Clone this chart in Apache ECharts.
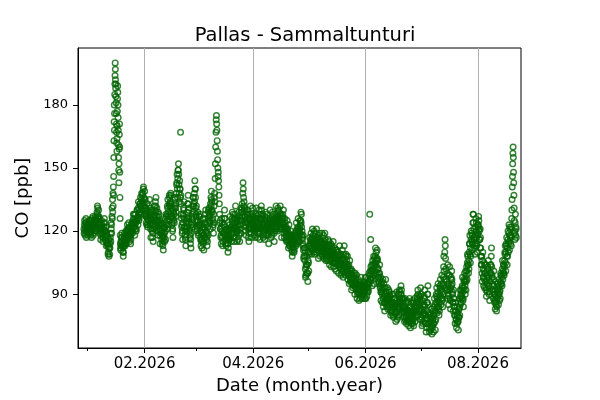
<!DOCTYPE html>
<html>
<head>
<meta charset="utf-8">
<script src="https://cdn.jsdelivr.net/npm/echarts@6/dist/echarts.min.js"></script>
<style>
    html, body {margin: 0; padding: 0; background: #fff;}
    #chart {width: 600px; height: 400px;}
</style>
</head>
<body>
<div id="chart"></div>
<script>
// CO readings [ppb], one inner list per day, readings spread evenly over the day
const dec2025 = [
    [121, 119, 123, 125, 120, 118, 122, 124], [124, 126, 121, 117, 119, 123, 122, 120]
]
const jan2026 = [
    [122, 118, 120, 124, 123, 119, 121, 125], [121, 125, 124, 120, 122, 118, 119, 123],
    [120, 117, 122, 126, 125, 121, 123, 127], [122, 118, 119, 123, 121, 125, 124, 120],
    [123, 127, 126, 122, 124, 120, 121, 125], [125, 129, 128, 132, 131, 126, 127, 124],
    [130, 127, 126, 122, 123, 119, 121, 124], [120, 116, 118, 122, 121, 125, 123, 119],
    [121, 117, 119, 115, 117, 121, 120, 124], [122, 126, 124, 120, 120, 116, 118, 122],
    [117, 113, 115, 119, 118, 114, 114, 117], [113, 109, 110, 114, 112, 108, 116, 112],
    [109, 112, 114, 117, 119, 115, 124, 121], [123, 119, 127, 131, 126, 135, 129, 138, 132],
    [141, 137, 146, 155, 163, 172, 180, 168, 176, 185, 190, 194],
    [200, 197, 192, 188, 184, 190, 181, 176, 171, 167, 162, 158],
    [164, 170, 177, 183, 189, 186, 180, 174, 168, 161, 155, 149],
    [143, 152, 159, 166, 171, 160, 148, 136, 126, 118, 114, 112],
    [111, 115, 113, 117, 115, 119, 117, 113], [114, 110, 112, 108, 110, 114, 113, 117],
    [115, 119, 117, 113, 114, 118, 116, 120], [118, 114, 116, 120, 119, 123, 121, 117],
    [117, 121, 120, 124, 122, 118, 119, 115], [121, 117, 118, 114, 116, 120, 119, 123],
    [120, 124, 123, 119, 121, 125, 124, 128], [126, 122, 124, 128, 122, 118, 125, 121],
    [128, 124, 124, 120, 121, 125, 126, 130], [130, 126, 127, 123, 131, 134, 128, 125],
    [126, 130, 129, 133, 133, 129, 136, 132], [132, 128, 135, 138, 137, 133, 134, 130],
    [138, 134, 140, 141, 136, 132, 132, 128]
]
const feb2026 = [
    [139, 135, 135, 131, 131, 127, 128, 124], [127, 123, 130, 133, 126, 122, 123, 127],
    [125, 129, 128, 132, 131, 135, 127, 123], [124, 128, 121, 117, 126, 130, 129, 125],
    [120, 124, 117, 121, 119, 115, 123, 127], [125, 121, 128, 132, 126, 122, 130, 134],
    [132, 136, 129, 125, 127, 131, 124, 120], [122, 118, 125, 129, 127, 123, 124, 128],
    [121, 125, 118, 114, 120, 124, 123, 119], [119, 123, 116, 120, 114, 118, 117, 113],
    [115, 111, 118, 122, 121, 117, 119, 115], [122, 126, 120, 116, 124, 128, 127, 123],
    [125, 121, 128, 132, 131, 135, 127, 123], [129, 125, 133, 137, 136, 132, 132, 128],
    [134, 138, 137, 133, 131, 127, 127, 123], [124, 120, 121, 117, 126, 130, 129, 125],
    [128, 124, 132, 136, 135, 131, 131, 127], [133, 129, 138, 142, 143, 147, 140, 136],
    [145, 149, 149, 152, 147, 142, 138, 134], [144, 140, 140, 136, 167, 137, 133, 128],
    [126, 122, 123, 119, 120, 116, 124, 128], [127, 131, 130, 134, 126, 122, 122, 118],
    [120, 116, 117, 113, 121, 125, 124, 120], [126, 122, 129, 133, 133, 137, 130, 126],
    [127, 131, 124, 120, 121, 117, 118, 114], [116, 112, 119, 123, 123, 127, 126, 122],
    [128, 124, 132, 136, 136, 132, 133, 129], [138, 134, 144, 140, 140, 136, 131, 127]
]
const mar2026 = [
    [128, 132, 124, 120, 121, 125, 125, 129], [122, 118, 119, 123, 123, 127, 127, 123],
    [124, 128, 120, 116, 117, 113, 115, 119], [116, 112, 119, 123, 122, 126, 118, 114],
    [115, 111, 118, 122, 121, 117, 124, 128], [126, 130, 123, 119, 120, 116, 117, 113],
    [119, 115, 122, 118, 126, 130, 129, 125], [131, 127, 128, 124, 125, 121, 133, 129],
    [136, 132, 139, 135, 134, 130, 129, 125], [126, 122, 123, 119, 128, 124, 132, 136],
    [138, 134, 145, 152, 160, 167, 173], [175, 171, 168, 163, 158, 154, 150, 146],
    [148, 144, 141, 137, 133, 128, 124], [125, 121, 121, 117, 118, 114, 122, 126],
    [120, 124, 117, 113, 115, 119, 119, 123], [123, 119, 126, 130, 122, 126, 118, 114],
    [116, 120, 113, 117, 117, 121, 120, 116], [114, 118, 110, 114, 112, 116, 117, 121],
    [120, 116, 123, 127, 121, 117, 118, 122], [119, 115, 122, 126, 125, 129, 123, 119],
    [124, 128, 121, 117, 119, 115, 122, 126], [126, 122, 128, 132, 124, 120, 121, 125],
    [119, 115, 122, 126, 120, 116, 123, 127], [125, 129, 122, 118, 119, 115, 121, 125],
    [123, 119, 126, 130, 129, 125, 131, 127], [133, 129, 138, 143, 140, 136, 132],
    [134, 130, 131, 127, 127, 123, 124, 120], [122, 118, 125, 129, 128, 124, 126, 130],
    [124, 128, 121, 117, 119, 115, 122, 126], [125, 121, 128, 132, 126, 122, 123, 119],
    [121, 117, 124, 128, 127, 131, 125, 121]
]
const apr2026 = [
    [123, 127, 126, 122, 122, 118, 120, 124], [121, 117, 124, 128, 127, 131, 125, 121],
    [122, 126, 119, 123, 121, 117, 124, 128], [126, 130, 123, 119, 120, 116, 122, 126],
    [125, 121, 128, 132, 130, 126, 127, 123], [124, 128, 121, 117, 119, 123, 122, 118],
    [120, 116, 123, 127, 125, 129, 122, 118], [121, 125, 124, 128, 126, 122, 123, 119],
    [120, 124, 118, 114, 121, 125, 124, 120], [126, 130, 124, 120, 121, 117, 119, 123],
    [122, 118, 125, 129, 127, 123, 124, 128], [122, 126, 119, 115, 121, 125, 124, 120],
    [126, 122, 128, 132, 125, 121, 122, 126], [124, 120, 127, 131, 129, 125, 126, 130],
    [123, 127, 125, 121, 128, 132, 126, 122], [124, 128, 121, 117, 123, 127, 126, 122],
    [128, 124, 126, 130, 123, 119, 121, 117], [122, 126, 124, 120, 120, 116, 118, 122],
    [119, 115, 121, 125, 117, 121, 115, 119], [116, 112, 119, 123, 117, 113, 114, 118],
    [113, 117, 116, 120, 118, 114, 115, 111], [112, 108, 110, 114, 113, 117, 116, 112],
    [114, 110, 111, 115, 115, 119, 118, 114], [117, 113, 120, 124, 118, 114, 121, 117],
    [119, 115, 122, 126, 120, 116, 117, 121], [119, 115, 121, 125, 123, 119, 125, 129],
    [124, 128, 122, 118, 120, 116, 117, 113], [114, 118, 111, 107, 108, 112, 112, 108],
    [106, 110, 102, 98, 99, 103, 104, 100], [108, 104, 104, 100, 100, 96, 106, 110]
]
const may2026 = [
    [105, 101, 109, 113, 113, 117, 110, 114], [112, 116, 115, 119, 113, 109, 116, 112],
    [117, 121, 115, 111, 118, 114, 114, 110], [116, 120, 113, 109, 115, 119, 112, 116],
    [114, 110, 117, 121, 115, 111, 112, 116], [113, 117, 111, 107, 114, 118, 116, 112],
    [115, 119, 112, 108, 114, 110, 111, 115], [113, 109, 115, 119, 112, 108, 110, 114],
    [114, 118, 111, 107, 113, 109, 115, 119], [112, 116, 110, 106, 108, 112, 111, 107],
    [113, 109, 110, 106, 112, 116, 109, 113], [111, 115, 108, 104, 110, 106, 113, 109],
    [110, 114, 107, 103, 109, 113, 112, 108], [109, 105, 111, 115, 107, 103, 105, 109],
    [108, 112, 106, 102, 109, 105, 107, 111], [105, 101, 107, 111, 110, 106, 108, 104],
    [106, 110, 104, 100, 107, 103, 109, 113], [108, 104, 105, 109, 103, 99, 106, 102],
    [104, 100, 107, 111, 105, 101, 102, 98], [106, 102, 109, 113, 107, 103, 104, 100],
    [103, 99, 105, 109, 108, 104, 106, 102], [104, 108, 101, 97, 103, 99, 100, 104],
    [99, 95, 102, 106, 100, 96, 97, 101], [98, 102, 96, 92, 99, 95, 101, 97],
    [97, 93, 95, 99, 98, 94, 96, 100], [94, 90, 96, 100, 93, 97, 97, 93],
    [95, 99, 92, 88, 94, 90, 91, 95], [93, 97, 91, 87, 94, 90, 92, 96],
    [92, 88, 94, 98, 91, 95, 93, 89], [90, 94, 92, 88, 94, 90, 91, 95],
    [93, 89, 91, 95, 92, 88, 94, 98]
]
const jun2026 = [
    [92, 88, 94, 98, 93, 89, 91, 95], [93, 97, 95, 91, 92, 96, 96, 100],
    [95, 99, 128, 97, 101, 97, 116, 103], [97, 101, 100, 104, 98, 94, 102, 106],
    [101, 97, 104, 108, 99, 95, 103, 107], [105, 101, 108, 112, 104, 100, 110, 106],
    [107, 103, 111, 107, 106, 102, 102, 98], [99, 95, 96, 100, 100, 104, 97, 93],
    [94, 98, 91, 87, 95, 91, 92, 96], [90, 86, 93, 97, 88, 84, 91, 95],
    [89, 93, 86, 82, 90, 86, 93, 97], [91, 87, 88, 84, 85, 89, 89, 93],
    [87, 83, 84, 88, 88, 92, 91, 87], [86, 90, 89, 85, 84, 80, 82, 86],
    [85, 81, 82, 86, 86, 90, 84, 80], [83, 79, 86, 90, 88, 84, 85, 81],
    [84, 88, 81, 77, 85, 81, 87, 91], [82, 78, 80, 84, 83, 79, 86, 90],
    [84, 80, 88, 92, 91, 87, 87, 83], [90, 86, 94, 90, 92, 88, 88, 84],
    [86, 82, 84, 88, 87, 83, 83, 79], [81, 77, 84, 88, 82, 78, 79, 83],
    [80, 76, 83, 87, 81, 77, 78, 82], [82, 86, 79, 75, 81, 77, 84, 88],
    [80, 84, 78, 74, 82, 86, 80, 76], [81, 77, 83, 87, 80, 76, 78, 82],
    [79, 75, 82, 86, 84, 88, 81, 77], [83, 79, 80, 84, 82, 86, 85, 89],
    [84, 80, 88, 92, 90, 86, 86, 82], [85, 89, 82, 78, 87, 83, 89, 93]
]
const jul2026 = [
    [86, 90, 82, 78, 79, 75, 83, 87], [80, 76, 77, 81, 81, 85, 85, 89],
    [88, 92, 84, 80, 80, 76, 76, 72], [78, 74, 82, 86, 86, 90, 90, 94],
    [85, 81, 80, 76, 76, 72, 74, 78], [77, 81, 73, 77, 75, 79, 79, 83],
    [71, 75, 74, 78, 78, 82, 76, 72], [80, 76, 84, 88, 81, 85, 77, 73],
    [82, 78, 86, 90, 89, 93, 85, 81], [88, 84, 91, 95, 87, 83, 84, 80],
    [86, 82, 90, 94, 93, 97, 89, 85], [92, 88, 95, 99, 91, 87, 88, 84],
    [94, 90, 98, 103, 108, 101, 97, 93], [110, 116, 113, 107, 102, 97, 93],
    [96, 92, 92, 88, 100, 104, 94, 90], [89, 85, 95, 99, 99, 103, 92, 88],
    [87, 83, 93, 97, 98, 94, 101, 97], [95, 91, 90, 86, 86, 82, 92, 88],
    [88, 84, 84, 80, 80, 76, 86, 82], [82, 78, 78, 74, 80, 76, 84, 80],
    [81, 77, 77, 73, 83, 79, 79, 83], [84, 80, 88, 92, 85, 89, 90, 86],
    [92, 88, 89, 93, 94, 98, 91, 87], [88, 84, 93, 97, 96, 92, 100, 96],
    [94, 90, 97, 101, 92, 96, 99, 103], [101, 97, 105, 109, 108, 104, 104, 100],
    [106, 102, 110, 114, 114, 118, 109, 105], [112, 108, 116, 120, 119, 115, 115, 111],
    [118, 114, 124, 128, 128, 124, 121, 117], [116, 112, 113, 109, 118, 114, 122, 126],
    [120, 124, 117, 113, 114, 110, 119, 123]
]
const aug2026 = [
    [118, 122, 123, 127, 125, 121, 120, 116], [116, 112, 121, 117, 112, 108, 108, 104],
    [104, 108, 100, 96, 106, 110, 102, 98], [98, 94, 101, 105, 97, 93, 104, 100],
    [100, 104, 96, 92, 93, 89, 97, 101], [95, 91, 99, 103, 102, 106, 98, 94],
    [94, 90, 91, 87, 96, 100, 100, 104], [104, 100, 108, 112, 103, 99, 98, 94],
    [95, 91, 92, 88, 97, 101, 94, 90], [90, 86, 87, 83, 92, 96, 89, 85],
    [86, 82, 84, 88, 88, 92, 91, 95], [89, 85, 93, 97, 90, 94, 87, 91],
    [92, 88, 96, 100, 99, 95, 95, 99], [98, 94, 102, 106, 97, 101, 100, 104],
    [104, 100, 99, 103, 106, 110, 109, 113], [105, 101, 110, 114, 113, 117, 108, 104],
    [112, 108, 116, 120, 110, 114, 119, 123], [115, 111, 118, 122, 121, 117, 114, 118],
    [117, 113, 122, 126, 130, 135, 141, 146, 152], [157, 160, 155, 148, 143, 137, 131, 125, 119],
    [120, 116, 124, 128, 118, 122, 121, 117]
]

// first day of each block above
const blocks = [
    {start: '2025-12-30', days: dec2025},
    {start: '2026-01-01', days: jan2026},
    {start: '2026-02-01', days: feb2026},
    {start: '2026-03-01', days: mar2026},
    {start: '2026-04-01', days: apr2026},
    {start: '2026-05-01', days: may2026},
    {start: '2026-06-01', days: jun2026},
    {start: '2026-07-01', days: jul2026},
    {start: '2026-08-01', days: aug2026}
]

const majorMonths = ['2026-02-01', '2026-04-01', '2026-06-01', '2026-08-01']
const minorMonths = ['2026-01-01', '2026-03-01', '2026-05-01', '2026-07-01']
const yTicks = [90, 120, 150, 180]

const DAY = 86400000
const ms = s => Date.parse(s + 'T00:00:00Z')

const buildData = () => {
    const out = []
    blocks.forEach(b => {
        const t0 = ms(b.start)
        b.days.forEach((vals, d) => {
            vals.forEach((v, i) => {
                out.push([t0 + d * DAY + i * DAY / vals.length, v])
            })
        })
    })
    return out
}

const fmtMonth = v => {
    const dt = new Date(v)
    const m = dt.getUTCMonth() + 1
    return (m < 10 ? '0' + m : m) + '.' + dt.getUTCFullYear()
}

const xMin = ms('2025-12-26') + 0.8 * DAY
const xMax = ms('2026-08-24') + 0.4 * DAY
const font = 'DejaVu Sans'

const option = {
    animation: false,
    title: {
        text: 'Pallas - Sammaltunturi',
        left: 300,
        top: 21,
        textAlign: 'center',
        textStyle: {fontFamily: font, fontSize: 19.5, fontWeight: 'normal', color: '#000'}
    },
    grid: {
        left: 78, right: 79, top: 48, bottom: 52,
        show: true, borderColor: '#000', borderWidth: 1
    },
    xAxis: [
        {
            type: 'value',
            min: xMin,
            max: xMax,
            position: 'bottom',
            name: 'Date (month.year)',
            nameLocation: 'middle',
            nameGap: 27,
            nameTextStyle: {fontFamily: font, fontSize: 18, color: '#000'},
            axisLine: {show: true, lineStyle: {color: '#000', width: 1}},
            axisTick: {show: true, length: 5, customValues: majorMonths.map(ms), lineStyle: {color: '#000'}},
            axisLabel: {
                customValues: majorMonths.map(ms),
                formatter: fmtMonth,
                margin: 9,
                fontFamily: font, fontSize: 15, color: '#000'
            },
            splitLine: {show: true, lineStyle: {color: '#b0b0b0', width: 1}}
        },
        {
            type: 'value',
            min: xMin,
            max: xMax,
            position: 'bottom',
            axisLine: {show: false},
            axisTick: {show: true, length: 3, customValues: minorMonths.map(ms), lineStyle: {color: '#000'}},
            axisLabel: {show: false},
            splitLine: {show: false}
        }
    ],
    yAxis: {
        type: 'value',
        min: 64.4,
        max: 207.1,
        name: 'CO [ppb]',
        nameLocation: 'middle',
        nameGap: 39,
        nameTextStyle: {fontFamily: font, fontSize: 18, color: '#000'},
        axisLine: {show: true, lineStyle: {color: '#000', width: 1}},
        axisTick: {show: true, length: 5, customValues: yTicks, lineStyle: {color: '#000'}},
        axisLabel: {customValues: yTicks, margin: 10, fontFamily: font, fontSize: 13, color: '#000'},
        splitLine: {show: false}
    },
    series: [
        {
            type: 'scatter',
            xAxisIndex: 0,
            data: buildData(),
            symbol: 'circle',
            symbolSize: 5.6,
            itemStyle: {color: 'rgba(0,0,0,0)', borderColor: '#006400', borderWidth: 1.4}
        }
    ]
}

const chart = echarts.init(document.getElementById('chart'))
chart.setOption(option)
</script>
</body>
</html>
